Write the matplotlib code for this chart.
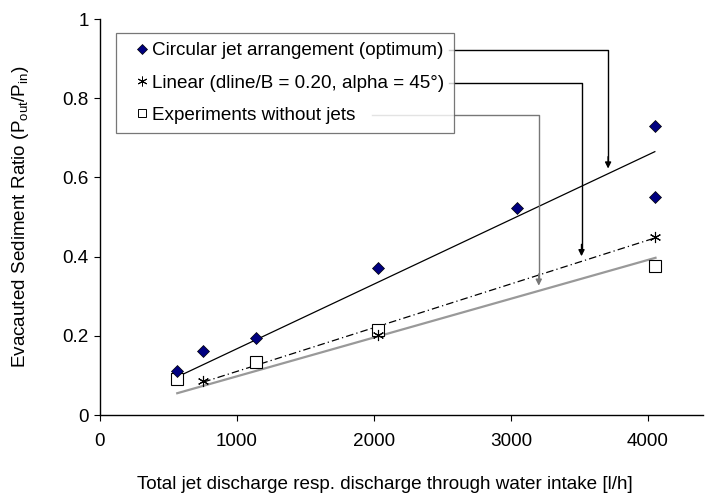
import numpy as np
import matplotlib
matplotlib.use("Agg")
import matplotlib.pyplot as plt
from matplotlib.lines import Line2D

plt.rcParams["font.family"] = ["Liberation Sans", "DejaVu Sans"]

# measured points
circ_x = [565, 755, 1139, 2031, 3041, 4052, 4052]
circ_y = [0.112, 0.162, 0.194, 0.370, 0.523, 0.731, 0.550]

lin_x = [755, 2031, 4052]
lin_y = [0.086, 0.202, 0.450]

nojet_x = [565, 1139, 2031, 4052]
nojet_y = [0.090, 0.135, 0.215, 0.376]

# trend lines (end points)
circ_fit_x = [570, 4050]
circ_fit_y = [0.097, 0.665]
lin_fit_x = [755, 4050]
lin_fit_y = [0.083, 0.447]
nojet_fit_x = [565, 4055]
nojet_fit_y = [0.055, 0.397]

labels = [
    "Circular jet arrangement (optimum)",
    "Linear (dline/B = 0.20, alpha = 45°)",
    "Experiments without jets",
]

FS = 13.6

fig = plt.figure(figsize=(7.06, 4.98), dpi=100)
ax = fig.add_axes([99.8 / 706, 83 / 498, 603 / 706, 396 / 498])

ax.plot(circ_fit_x, circ_fit_y, color="black", lw=0.9)
ax.plot(lin_fit_x, lin_fit_y, color="black", lw=0.9, dashes=(6, 2.5, 1, 2.5))
ax.plot(nojet_fit_x, nojet_fit_y, color="#999999", lw=1.6)

ax.plot(nojet_x, nojet_y, ls="none", marker="s", ms=8, mfc="white", mec="black", mew=0.8)
ax.plot(lin_x, lin_y, ls="none", marker=(6, 2, 0), ms=8, mec="black", mew=0.8)
ax.plot(circ_x, circ_y, ls="none", marker="D", ms=6.5, mfc="#000080", mec="black", mew=0.5)

ax.set_xlim(0, 4400)
ax.set_ylim(0, 1)
ax.set_xticks([0, 1000, 2000, 3000, 4000])
ax.set_yticks([0, 0.2, 0.4, 0.6, 0.8, 1])
ax.set_yticklabels(["0", "0.2", "0.4", "0.6", "0.8", "1"])
ax.tick_params(labelsize=FS, length=4, width=0.8, direction="out")
ax.tick_params(axis="x", pad=9)
ax.tick_params(axis="y", pad=4)
for s in ["top", "right"]:
    ax.spines[s].set_visible(False)
for s in ["left", "bottom"]:
    ax.spines[s].set_linewidth(1.0)

fig.text(21 / 706, 1 - 217 / 498,
         "Evacauted Sediment Ratio (P$_\\mathregular{out}$/P$_\\mathregular{in}$)",
         rotation=90, ha="center", va="center", fontsize=FS)
fig.text(385 / 706, 1 - 484 / 498, "Total jet discharge resp. discharge through water intake [l/h]",
         ha="center", va="center", fontsize=FS)

handles = [
    Line2D([], [], ls="none", marker="D", ms=5, mfc="#000080", mec="black", mew=0.5),
    Line2D([], [], ls="none", marker=(6, 2, 0), ms=7, mec="black", mew=0.7),
    Line2D([], [], ls="none", marker="s", ms=6, mfc="white", mec="black", mew=0.7),
]
leg = ax.legend(handles, labels, loc="upper left", bbox_to_anchor=(16.2 / 603, 1 - 13.7 / 396),
                fontsize=FS, frameon=True, fancybox=False, edgecolor="#555555",
                handlelength=1.76, handletextpad=-0.34, labelspacing=0.8, borderpad=0.5,
                borderaxespad=0)
leg.get_frame().set_linewidth(0.9)

# connector arrows from legend rows to trend lines
legend_right = 2547
rows = [
    (0.922, 3709, circ_fit_x, circ_fit_y, "black", legend_right),
    (0.838, 3515, lin_fit_x, lin_fit_y, "black", legend_right),
    (0.758, 3203, nojet_fit_x, nojet_fit_y, "#777777", 1983),
]
for y_row, x_drop, fx, fy, col, x_start in rows:
    tip = np.interp(x_drop, fx, fy) + 0.013
    ax.plot([x_start, x_drop, x_drop], [y_row, y_row, tip + 0.02], color=col, lw=1.0)
    ax.annotate("", xy=(x_drop, tip), xytext=(x_drop, tip + 0.03),
                arrowprops=dict(arrowstyle="-|>", color=col, lw=1.0, mutation_scale=9,
                                shrinkA=0, shrinkB=0))

fig.savefig("out.png", dpi=100)
